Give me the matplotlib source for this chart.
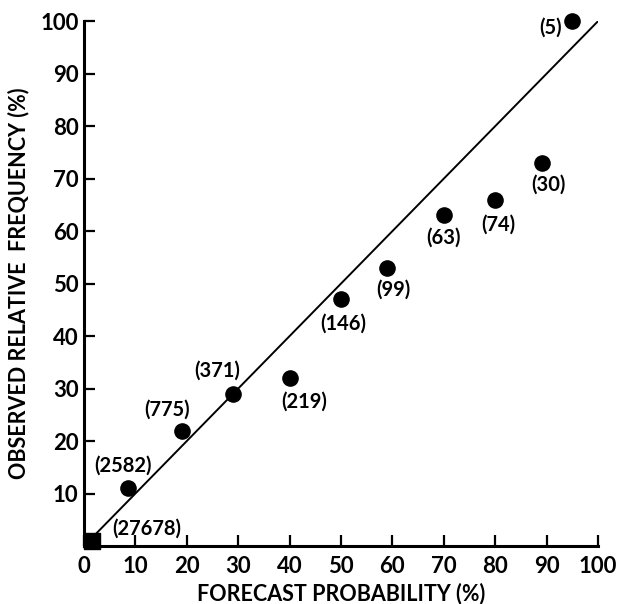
import numpy as np
import matplotlib.pyplot as plt

# reliability diagram data
forecast = [1.5, 8.5, 19, 29, 40, 50, 59, 70, 80, 89, 95]
observed = [1, 11, 22, 29, 32, 47, 53, 63, 66, 73, 100]
counts = ['27678', '2582', '775', '371', '219', '146', '99', '63', '74', '30', '5']

# label offsets in pixels (dx, dy) from each dot
offsets = [(55, 12), (-5, 23), (-15, 21), (-16, 23), (15, -24), (2, -24),
           (6, -22), (0, -22), (3, -25), (7, -22), (-22, -7)]

plt.rcParams['font.family'] = ['Lato', 'DejaVu Sans']

fig = plt.figure(figsize=(6.3, 6.04), dpi=100)
ax = fig.add_axes([0.1333, 0.096, 0.816, 0.869])

ax.plot([0, 100], [0, 100], color='black', lw=1.4, zorder=1)
ax.scatter(forecast[1:], observed[1:], s=120, color='black', zorder=3, clip_on=False)
ax.scatter(forecast[:1], observed[:1], s=140, marker='s', color='black', zorder=3, clip_on=False)

for x, y, c, off in zip(forecast, observed, counts, offsets):
    ax.annotate('(' + c + ')', (x, y), xytext=off, textcoords='offset pixels',
                ha='center', va='center', fontsize=14.5, fontweight='bold')

ax.set_xlim(0, 100)
ax.set_ylim(0, 100)
ax.set_xticks(np.arange(0, 101, 10))
ax.set_yticks(np.arange(10, 101, 10))
ax.tick_params(direction='in', length=8, width=1.6, labelsize=16)
ax.tick_params(axis='y', pad=4)
ax.tick_params(axis='x', pad=7)
for lab in ax.get_xticklabels() + ax.get_yticklabels():
    lab.set_fontweight('bold')

ax.spines['top'].set_visible(False)
ax.spines['right'].set_visible(False)
ax.spines['left'].set_linewidth(2.2)
ax.spines['bottom'].set_linewidth(2.2)

ax.set_xlabel('FORECAST PROBABILITY (%)', fontsize=15.5, fontweight='bold', labelpad=4)
ax.set_ylabel('OBSERVED RELATIVE  FREQUENCY (%)', fontsize=15.5, fontweight='bold', labelpad=8)

fig.savefig('out.png', dpi=100)
